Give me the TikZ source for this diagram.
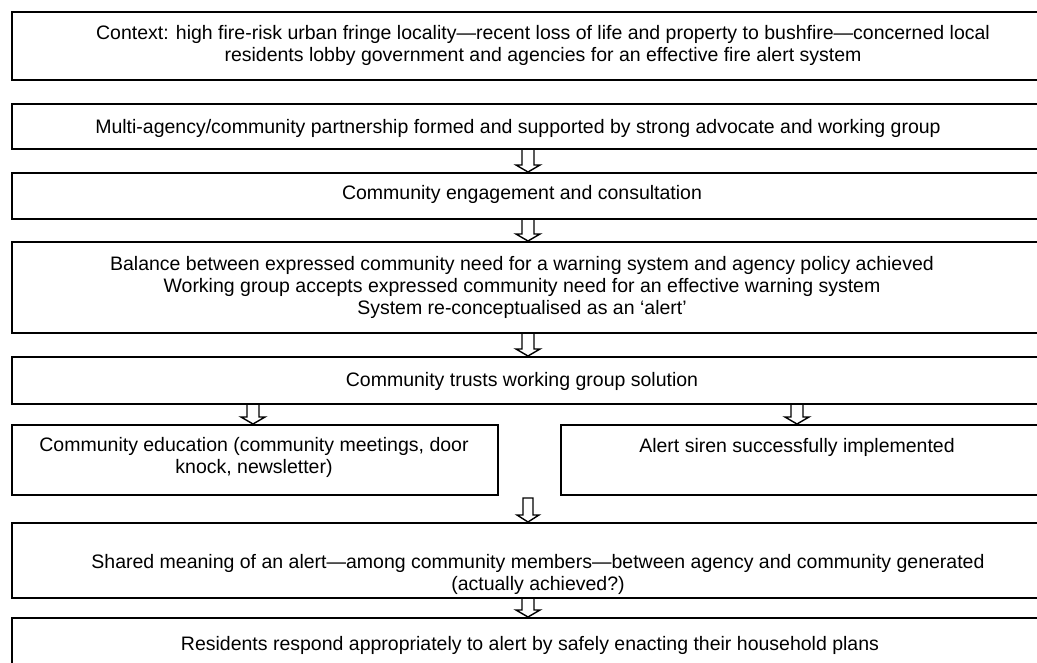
\documentclass[tikz,border=0pt]{standalone}
\usepackage{fontspec}
\setmainfont{Liberation Sans}
\usetikzlibrary{calc}
\tikzset{
  box/.style={draw=black, line width=1.7pt, rectangle, inner sep=0pt, anchor=north west},
  txt/.style={font=\fontsize{19.5}{22}\selectfont, align=center, inner sep=0pt},
  arrowline/.style={draw=black, line width=1.4pt, line join=miter},
}
\newcommand{\hollowarrow}[4]{% from, to, x-coordinate name, half width
  \path (#1.south -| #3) coordinate (ha1) (#2.north -| #3) coordinate (ha2);
  \draw[arrowline] ([xshift=-#4]ha1) -- ([xshift=-#4,yshift=7pt]ha2)
    -- ([xshift=-#4-6pt,yshift=7pt]ha2) -- (ha2)
    -- ([xshift=#4+6pt,yshift=7pt]ha2) -- ([xshift=#4,yshift=7pt]ha2)
    -- ([xshift=#4]ha1);
}
\begin{document}
\begin{tikzpicture}[x=1pt,y=-1pt]
\useasboundingbox (0,0) rectangle (1037,662);
\clip (0,0) rectangle (1037,662);
% boxes
\node[box, minimum width=1060pt, minimum height=68pt] (b1) at (11,11) {};
\node[box, minimum width=1060pt, minimum height=45pt] (b2) at (11,103) {};
\node[box, minimum width=1060pt, minimum height=46pt] (b3) at (11,172) {};
\node[box, minimum width=1060pt, minimum height=91pt] (b4) at (11,241) {};
\node[box, minimum width=1060pt, minimum height=47pt] (b5) at (11,356) {};
\node[box, minimum width=486pt, minimum height=70pt] (b6) at (11,424) {};
\node[box, minimum width=500pt, minimum height=70pt] (b7) at (560,424) {};
\node[box, minimum width=1060pt, minimum height=75pt] (b8) at (11,522) {};
\node[box, minimum width=1060pt, minimum height=80pt] (b9) at (11,617) {};
% texts
\node[txt] (t1) at (543,45) {Context: high fire-risk urban fringe locality---recent loss of life and property to bushfire---concerned local\\residents lobby government and agencies for an effective fire alert system};
\node[txt] (t2) at (518,128) {Multi-agency/community partnership formed and supported by strong advocate and working group};
\node[txt] (t3) at (522,194) {Community engagement and consultation};
\node[txt] (t4) at (522,287) {Balance between expressed community need for a warning system and agency policy achieved\\Working group accepts expressed community need for an effective warning system\\System re-conceptualised as an `alert'};
\node[txt] (t5) at (522,381) {Community trusts working group solution};
\node[txt] (t6) at (254,457) {Community education (community meetings, door\\knock, newsletter)};
\node[txt] (t7) at (797,447) {Alert siren successfully implemented};
\node[txt] (t8) at (538,574) {Shared meaning of an alert---among community members---between agency and community generated\\(actually achieved?)};
\node[txt] (t9) at (530,645) {Residents respond appropriately to alert by safely enacting their household plans};
% arrow x positions
\coordinate (xm) at (528,0);
\coordinate (xl) at (253,0);
\coordinate (xr) at (797,0);
\coordinate (xs) at (528,0);
\hollowarrow{b2}{b3}{xm}{6pt}
\hollowarrow{b3}{b4}{xm}{6pt}
\hollowarrow{b4}{b5}{xm}{6pt}
\hollowarrow{b5}{b6}{xl}{6pt}
\hollowarrow{b5}{b7}{xr}{6pt}
\hollowarrow{b8}{b9}{xm}{6pt}
% small arrow from the row to b8
\coordinate (sa) at (528,498);
\path (b8.north -| xs) coordinate (sb);
\draw[arrowline] ([xshift=-5pt]sa) -- ([xshift=5pt]sa) -- ([xshift=5pt,yshift=7pt]sb)
  -- ([xshift=11pt,yshift=7pt]sb) -- (sb) -- ([xshift=-11pt,yshift=7pt]sb)
  -- ([xshift=-5pt,yshift=7pt]sb) -- cycle;
\end{tikzpicture}
\end{document}
